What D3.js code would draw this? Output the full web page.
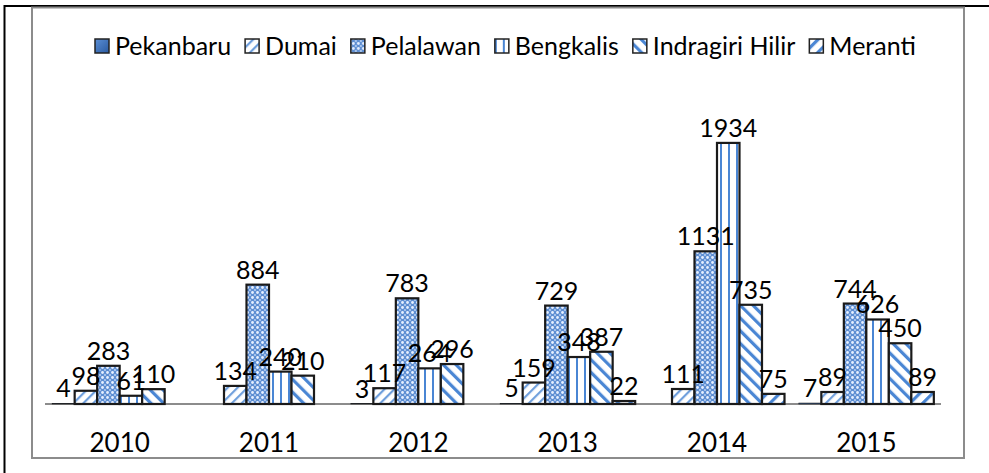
<!DOCTYPE html>
<html>
<head>
<meta charset="utf-8">
<script src="https://cdn.jsdelivr.net/npm/d3@7/dist/d3.min.js"></script>
<style>
  html, body { margin: 0; padding: 0; background: #fff; }
  svg { display: block; }
  text { font-family: Lato, "Open Sans", sans-serif; fill: #000; }
</style>
</head>
<body>
<svg id="chart" width="989" height="473"></svg>
<script>
// ---- data ----
const years = ["2010", "2011", "2012", "2013", "2014", "2015"];
const seriesNames = ["Pekanbaru", "Dumai", "Pelalawan", "Bengkalis", "Indragiri Hilir", "Meranti"];
const pekanbaru      = [4, null, 3, 5, null, 7];
const dumai          = [98, 134, 117, 159, 111, 89];
const pelalawan      = [283, 884, 783, 729, 1131, 744];
const bengkalis      = [61, 240, 264, 348, 1934, 626];
const indragiriHilir = [110, 210, 296, 387, 735, 450];
const meranti        = [null, null, null, 22, 75, 89];
const seriesValues = [pekanbaru, dumai, pelalawan, bengkalis, indragiriHilir, meranti];

// ---- layout ----
const W = 989, H = 473;
const svg = d3.select("#chart");
const defs = svg.append("defs");

// Fills / patterns
const grad = defs.append("linearGradient").attr("id", "g-pek")
  .attr("x1", 0).attr("y1", 0).attr("x2", 1).attr("y2", 1);
grad.append("stop").attr("offset", "0%").attr("stop-color", "#5b8fd6");
grad.append("stop").attr("offset", "100%").attr("stop-color", "#2a5aa0");

function stripePattern(id, angle, spacing, width, color) {
  const p = defs.append("pattern").attr("id", id)
    .attr("patternUnits", "userSpaceOnUse")
    .attr("width", spacing).attr("height", spacing)
    .attr("patternTransform", `rotate(${angle})`);
  p.append("rect").attr("width", spacing).attr("height", spacing).attr("fill", "#fff");
  p.append("rect").attr("x", 0).attr("y", 0).attr("width", width).attr("height", spacing)
    .attr("fill", color);
  return p;
}
stripePattern("p-dumai", 45, 7, 2.2, "#6f9fdc");
stripePattern("p-bengkalis", 0, 8, 2, "#4a86d4");
stripePattern("p-indragiri", -45, 9, 3.2, "#4a86d4");
stripePattern("p-meranti", 45, 9, 3.2, "#4a86d4");

// lattice for Pelalawan
(function () {
  const s = 5;
  const p = defs.append("pattern").attr("id", "p-pelalawan")
    .attr("patternUnits", "userSpaceOnUse")
    .attr("width", s).attr("height", s);
  p.append("rect").attr("width", s).attr("height", s).attr("fill", "#5f8fd2");
  p.append("circle").attr("cx", s / 2).attr("cy", s / 2).attr("r", 1.4).attr("fill", "#e6efff");
  [[0, 0], [s, 0], [0, s], [s, s]].forEach(([cx, cy]) =>
    p.append("circle").attr("cx", cx).attr("cy", cy).attr("r", 0.9).attr("fill", "#c8dbf6"));
})();

const fills = ["url(#g-pek)", "url(#p-dumai)", "url(#p-pelalawan)", "url(#p-bengkalis)", "url(#p-indragiri)", "url(#p-meranti)"];

// Frame lines
svg.append("line").attr("x1", 4).attr("x2", W).attr("y1", 6).attr("y2", 6)
  .attr("stroke", "#000").attr("stroke-width", 2);
svg.append("line").attr("x1", 4.5).attr("x2", 4.5).attr("y1", 5).attr("y2", H)
  .attr("stroke", "#000").attr("stroke-width", 2);
svg.append("rect").attr("x", 32).attr("y", 7.5).attr("width", 932).attr("height", 450.5)
  .attr("fill", "#fff").attr("stroke", "#8c8c8c").attr("stroke-width", 2);

// Scales
const x0 = d3.scaleBand().domain(years).range([45, 941])
  .paddingInner(0.096).paddingOuter(0.048);
const x1 = d3.scaleBand().domain(seriesNames).range([0, x0.bandwidth()]);
const y = d3.scaleLinear().domain([0, 2000]).range([404, 134]);

// Baseline axis
const xAxis = d3.axisBottom(x0).tickSize(0).tickPadding(0);
const axisG = svg.append("g").attr("transform", `translate(0,${y(0)})`).call(xAxis);
axisG.select(".domain").attr("stroke", "#8c8c8c").attr("stroke-width", 2)
  .attr("d", `M45,0H941`);
axisG.selectAll(".tick text")
  .attr("font-size", 26).attr("font-family", "Lato, sans-serif")
  .attr("dy", 0).attr("y", 48).attr("fill", "#000");

// Bars
const barData = [];
seriesNames.forEach((s, si) => {
  years.forEach((yr, yi) => {
    barData.push({ series: s, si, year: yr, value: seriesValues[si][yi] });
  });
});

const bars = svg.append("g");
bars.selectAll("rect")
  .data(barData.filter(d => d.value !== null))
  .join("rect")
  .attr("x", d => x0(d.year) + x1(d.series))
  .attr("y", d => y(d.value))
  .attr("width", x1.bandwidth())
  .attr("height", d => y(0) - y(d.value))
  .attr("fill", d => fills[d.si])
  .attr("stroke", "#1a1a1a")
  .attr("stroke-width", d => (y(0) - y(d.value)) < 2 ? 0.6 : 2.2);

// Labels
svg.append("g").selectAll("text")
  .data(barData.filter(d => d.value !== null))
  .join("text")
  .attr("x", d => x0(d.year) + x1(d.series) + x1.bandwidth() / 2)
  .attr("y", d => y(d.value) - 6)
  .attr("text-anchor", "middle")
  .attr("font-size", 25)
  .text(d => d.value);

// Legend
const legend = svg.append("g").attr("transform", "translate(95,46)");
let lx = 0;
seriesNames.forEach((s, i) => {
  const g = legend.append("g").attr("transform", `translate(${lx},0)`);
  g.append("rect").attr("x", 0).attr("y", -7).attr("width", 14).attr("height", 14)
    .attr("fill", fills[i]).attr("stroke", "#222").attr("stroke-width", 1.5);
  const t = g.append("text").attr("x", 20).attr("y", 9).attr("font-size", 25).text(s);
  lx += 20 + t.node().getComputedTextLength() + 14;
});
</script>
</body>
</html>
